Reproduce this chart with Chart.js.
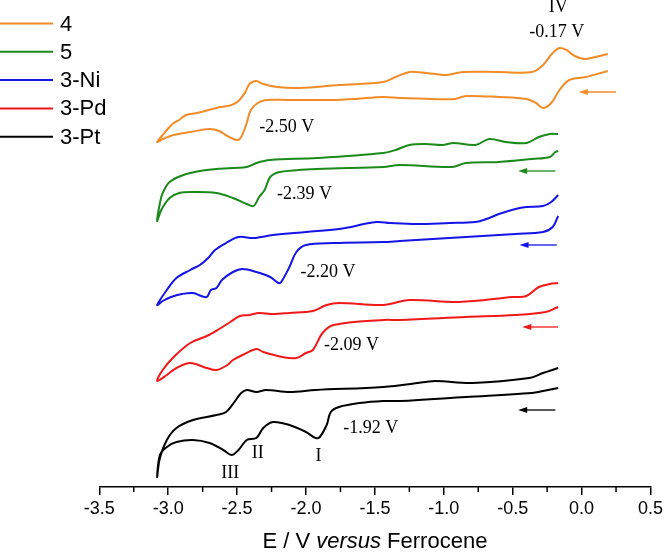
<!DOCTYPE html>
<html>
<head>
<meta charset="utf-8">
<style>
  html, body { margin: 0; padding: 0; background: #fff; }
  #wrap { width: 666px; height: 553px; }
</style>
</head>
<body>
<div id="wrap"><canvas id="cv"></canvas></div>
<script src="https://cdn.jsdelivr.net/npm/chart.js@4"></script>
<script>
// Cyclic voltammograms, current in arbitrary units (curves stacked)
const labels = ['4', '5', '3-Ni', '3-Pd', '3-Pt'];
const colors = ['#f28c28', '#1b8a1b', '#1414e6', '#f01818', '#000000'];

// each scan: cathodic sweep right -> left, then return sweep left -> right
const e4 = [0.19, 0.03, -0.09, -0.16, -0.22, -0.28, -0.33, -0.40, -0.60, -0.84, -0.92, -1.08, -1.32, -1.44, -1.64, -1.80, -2.12, -2.29, -2.35, -2.40, -2.43, -2.47, -2.50, -2.57, -2.63, -2.70, -2.84, -2.96, -3.04, -3.08,
  -3.04, -3.01, -2.96, -2.92, -2.87, -2.79, -2.65, -2.54, -2.49, -2.44, -2.41, -2.36, -2.31, -2.21, -2.05, -1.76, -1.44, -1.35, -1.25, -1.20, -1.06, -0.98, -0.86, -0.60, -0.36, -0.28, -0.21, -0.16, -0.11, -0.05, 0.02, 0.10, 0.19];
const i4 = [416, 410, 407, 397, 384, 379, 384, 388, 390, 391, 388, 388, 389, 390, 388, 387, 387, 387, 384, 377, 364, 350, 347, 351, 356, 358, 355, 352, 348, 345,
  352, 357, 364, 367, 372, 374, 379, 382, 386, 395, 403, 406, 403, 400, 399, 402, 405, 410, 415, 415, 413, 412, 415, 415, 415, 422, 434, 439, 437, 431, 428, 430, 433];

const e5 = [-0.17, -0.19, -0.23, -0.36, -0.60, -0.84, -0.94, -1.32, -1.44, -1.92, -2.19, -2.26, -2.30, -2.34, -2.38, -2.43, -2.53, -2.65, -2.82, -2.92, -2.99, -3.05, -3.08,
  -3.06, -3.04, -2.99, -2.89, -2.77, -2.65, -2.43, -2.36, -2.26, -1.92, -1.44, -1.35, -1.25, -1.13, -1.01, -0.93, -0.77, -0.67, -0.55, -0.40, -0.31, -0.23, -0.17];
const i5 = [336, 335, 330, 328, 325, 324, 320, 322, 320, 318, 315, 310, 297, 290, 281, 283, 289, 294, 295, 294, 289, 277, 266,
  284, 294, 305, 312, 316, 318, 320, 324, 327, 329, 334, 337, 342, 343, 342, 344, 342, 348, 345, 344, 350, 353, 353];

const eNi = [-0.17, -0.21, -0.28, -0.48, -0.84, -1.32, -1.44, -1.80, -2.00, -2.07, -2.12, -2.18, -2.20, -2.26, -2.36, -2.46, -2.53, -2.61, -2.65, -2.69, -2.72, -2.76, -2.82, -2.90, -2.98, -3.04, -3.08,
  -3.01, -2.94, -2.84, -2.77, -2.71, -2.66, -2.58, -2.49, -2.38, -2.24, -2.00, -1.76, -1.49, -1.39, -1.20, -0.96, -0.77, -0.69, -0.60, -0.48, -0.40, -0.28, -0.22, -0.17];
const iNi = [271, 260, 255, 253, 250, 246, 245, 244, 242, 235, 220, 205, 204, 210, 215, 218, 215, 207, 199, 197, 190, 191, 194, 193, 190, 186, 182,
  197, 209, 217, 222, 229, 237, 244, 250, 249, 252, 255, 258, 265, 264, 263, 264, 265, 268, 273, 278, 280, 281, 285, 292];

const ePd = [-0.17, -0.26, -0.48, -0.84, -1.32, -1.44, -1.80, -1.88, -1.95, -2.00, -2.07, -2.17, -2.31, -2.36, -2.46, -2.53, -2.57, -2.65, -2.72, -2.84, -2.94, -3.01, -3.08,
  -3.04, -2.96, -2.84, -2.72, -2.63, -2.55, -2.48, -2.41, -2.34, -2.24, -2.12, -1.95, -1.85, -1.76, -1.44, -1.25, -0.89, -0.50, -0.40, -0.31, -0.23, -0.17];
const iPd = [180, 175, 172, 170, 167, 167, 162, 154, 137, 134, 129, 130, 135, 138, 132, 127, 122, 117, 119, 124, 119, 112, 106,
  117, 130, 144, 151, 158, 165, 171, 172, 174, 173, 174, 176, 182, 184, 182, 187, 185, 190, 191, 200, 203, 204];

const ePt = [-0.17, -0.28, -0.36, -0.84, -1.32, -1.44, -1.61, -1.76, -1.82, -1.85, -1.90, -1.93, -2.00, -2.12, -2.24, -2.31, -2.36, -2.43, -2.49, -2.54, -2.60, -2.70, -2.82, -2.94, -3.01, -3.06, -3.08,
  -3.06, -3.01, -2.94, -2.82, -2.65, -2.58, -2.52, -2.47, -2.43, -2.36, -2.29, -2.12, -1.93, -1.44, -1.13, -1.06, -0.79, -0.38, -0.28, -0.17];
const iPt = [99, 96, 94, 90, 86, 86, 84, 80, 75, 62, 50, 49, 55, 62, 65, 59, 49, 47, 37, 32, 37, 44, 47, 45, 40, 32, 10,
  29, 47, 59, 67, 72, 75, 85, 94, 97, 95, 97, 95, 97, 100, 105, 106, 104, 109, 114, 119];

const xTicks = [-3.5, -3.0, -2.5, -2.0, -1.5, -1.0, -0.5, 0.0, 0.5];

// peak labels
const noteText = ['-2.50 V', '-2.39 V', '-2.20 V', '-2.09 V', '-1.92 V', 'III', 'II', 'I', 'IV', '-0.17 V'];
const noteE = [-2.14, -2.01, -1.84, -1.67, -1.53, -2.55, -2.35, -1.91, -0.17, -0.18];
const noteI = [360, 293, 215, 141.5, 59, 14, 34, 31, 480, 455];

// scan direction arrows
const arrowFrom = [0.25, -0.19, -0.18, -0.17, -0.19];
const arrowTo = [-0.02, -0.46, -0.45, -0.43, -0.46];
const arrowI = [395, 316, 242, 160, 77];

const series = [[e4, i4], [e5, i5], [eNi, iNi], [ePd, iPd], [ePt, iPt]];

Chart.defaults.font.family = "'Liberation Sans', Arial, sans-serif";
Chart.defaults.color = '#000';

// legend drawn left of the plot area (outside the axis range)
const sideLegend = {
  id: 'sideLegend',
  afterDraw(chart) {
    const ctx = chart.ctx;
    ctx.save();
    ctx.font = "22px 'Liberation Sans', Arial, sans-serif";
    ctx.textBaseline = 'middle';
    ctx.textAlign = 'left';
    chart.data.datasets.forEach((ds, k) => {
      const yy = 23.5 + k * 28.3;
      ctx.strokeStyle = ds.borderColor;
      ctx.lineWidth = 2;
      ctx.beginPath();
      ctx.moveTo(0, yy);
      ctx.lineTo(53, yy);
      ctx.stroke();
      ctx.fillStyle = '#000';
      ctx.fillText(ds.label, 60, yy + 1);
    });
    ctx.restore();
  }
};

const extras = {
  id: 'extras',
  afterDraw(chart) {
    const {ctx, chartArea, scales: {x, y}} = chart;
    ctx.save();
    // minor ticks
    ctx.strokeStyle = '#000';
    ctx.lineWidth = 1.5;
    for (let k = 0; k < xTicks.length - 1; k++) {
      const px = x.getPixelForValue((xTicks[k] + xTicks[k + 1]) / 2);
      ctx.beginPath();
      ctx.moveTo(px, chartArea.bottom);
      ctx.lineTo(px, chartArea.bottom + 5);
      ctx.stroke();
    }
    // axis title with italic word
    const parts = [['E / V ', 'normal'], ['versus', 'italic'], [' Ferrocene', 'normal']];
    let total = 0;
    parts.forEach(p => {
      ctx.font = p[1] + " 22px 'Liberation Sans', Arial, sans-serif";
      total += ctx.measureText(p[0]).width;
    });
    let tx = (chartArea.left + chartArea.right) / 2 - total / 2;
    const ty = chart.height - 11;
    ctx.textBaseline = 'middle';
    ctx.textAlign = 'left';
    ctx.fillStyle = '#000';
    parts.forEach(p => {
      ctx.font = p[1] + " 22px 'Liberation Sans', Arial, sans-serif";
      ctx.fillText(p[0], tx, ty);
      tx += ctx.measureText(p[0]).width;
    });
    // peak labels
    ctx.font = "18px 'Liberation Serif', 'Times New Roman', serif";
    ctx.textAlign = 'center';
    noteText.forEach((t, k) => {
      ctx.fillText(t, x.getPixelForValue(noteE[k]), y.getPixelForValue(noteI[k]));
    });
    // arrows
    arrowI.forEach((v, k) => {
      const x0 = x.getPixelForValue(arrowFrom[k]);
      const x1 = x.getPixelForValue(arrowTo[k]);
      const py = y.getPixelForValue(v);
      ctx.strokeStyle = colors[k];
      ctx.fillStyle = colors[k];
      ctx.lineWidth = 1.3;
      ctx.beginPath();
      ctx.moveTo(x0, py);
      ctx.lineTo(x1 + 6, py);
      ctx.stroke();
      ctx.beginPath();
      ctx.moveTo(x1, py);
      ctx.lineTo(x1 + 9, py - 3);
      ctx.lineTo(x1 + 9, py + 3);
      ctx.closePath();
      ctx.fill();
    });
    ctx.restore();
  }
};

new Chart(document.getElementById('cv'), {
  type: 'scatter',
  data: {
    datasets: series.map((s, k) => ({
      label: labels[k],
      data: s[0].map((e, j) => ({x: e, y: s[1][j]})),
      showLine: true,
      borderColor: colors[k],
      backgroundColor: colors[k],
      borderWidth: 2,
      pointRadius: 0,
      tension: 0.35
    }))
  },
  options: {
    responsive: true,
    maintainAspectRatio: false,
    animation: false,
    events: [],
    layout: { padding: { left: 99.3, top: 6, right: 15, bottom: 0 } },
    scales: {
      x: {
        type: 'linear',
        min: -3.5, max: 0.5,
        afterFit: (scale) => { scale.height = 66; },
        afterBuildTicks: (scale) => { scale.ticks = xTicks.map(v => ({value: v})); },
        ticks: {
          callback: (v) => v.toFixed(1),
          font: { size: 18 },
          color: '#000',
          padding: 3,
          maxRotation: 0
        },
        grid: { drawOnChartArea: false, drawTicks: true, tickLength: 8, color: '#000', lineWidth: 1.5 },
        border: { display: true, color: '#000', width: 1.5 }
      },
      y: { display: false, min: 0, max: 481 }
    },
    plugins: {
      tooltip: { enabled: false },
      legend: { display: false }
    }
  },
  plugins: [extras, sideLegend]
});
</script>
</body>
</html>
